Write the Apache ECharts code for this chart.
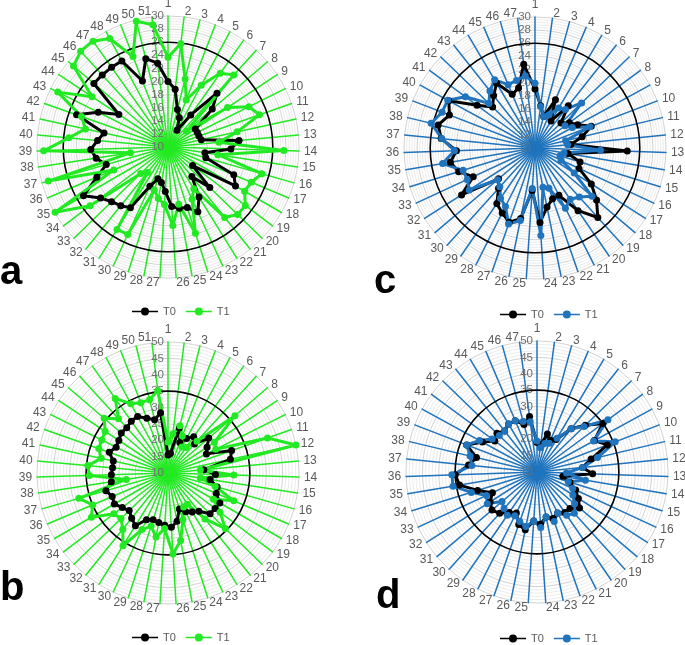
<!DOCTYPE html>
<html>
<head>
<meta charset="utf-8">
<script src="https://cdn.jsdelivr.net/npm/echarts@6/dist/echarts.min.js"></script>
<style>
html, body { margin: 0; padding: 0; background: #fff; }
#chart { width: 685px; height: 645px; }
</style>
</head>
<body>
<div id="chart"></div>
<script>
// axis names: 51 items for panels a/b, 47 items for panels c/d
var names51 = Array.from({length: 51}, function (_, i) { return String(i + 1); });
var names47 = Array.from({length: 47}, function (_, i) { return String(i + 1); });

// panel a (scale 10-30)
var aT0 = [20, 18.9, 15.9, 14.8, 12.9, 16, 21.1, 18.9, 15, 15, 15, 15.2, 20.9, 19.6, 15.7, 16, 20.9, 21.9, 14.7, 18.9,
  15.8, 19, 20.9, 19.7, 19.5, 19.1, 16.8, 15.5, 15.1, 16.6, 20.9, 21.5, 22, 22.9, 24.9, 21.8, 19.8, 21.1, 21.8, 20.8,
  20, 24.8, 21.9, 19, 24.9, 24.9, 24.9, 24.9, 20.8, 23.9, 22.9];
var aT1 = [23.7, 25.9, 20.7, 17.7, 20.7, 23.8, 24.9, 13.7, 20.9, 23.8, 24.8, 20.8, 17.8, 27.7, 17.7, 24.9, 23.8, 23.5, 24.8, 24.8,
  23.8, 17.5, 18.8, 23.8, 18.9, 22, 18.8, 18, 16.9, 24.7, 24.8, 15, 15.8, 24.9, 29.9, 19, 29, 15.8, 29, 25.2,
  22.9, 24, 28.8, 23.9, 29, 29.8, 29.8, 28.8, 24.8, 29.8, 28.8];

// panel b (scale 10-50)
var bT0 = [15.5, 16, 24.2, 20, 22, 23.6, 22, 26.4, 24.3, 23.1, 30.6, 29.5, 21, 24.5, 23, 25.6, 26, 28.3, 28, 27.9,
  25, 24, 23, 21.5, 25, 26.6, 26, 25.4, 25, 25.7, 28.9, 27.7, 26.5, 27.5, 28.9, 28.5, 29.7, 27.5, 27.3, 27,
  27.1, 29, 27.7, 28, 28.8, 28.7, 29.4, 29.6, 27.9, 26.8, 28.5];
var bT1 = [19.5, 22, 24.9, 22.1, 19, 19.5, 23.1, 36.9, 27, 26.3, 42.2, 50, 19.9, 30.1, 20, 25, 31.8, 26, 29.9, 34.4,
  28, 21.2, 21.4, 25, 31, 34.8, 27, 29.9, 27, 29, 36.1, 32, 30, 30.7, 37, 35, 38.3, 22.9, 34, 34.6,
  30.9, 32.4, 32.6, 33, 35.7, 32.4, 37.9, 34, 33, 33.1, 35.3];

// panel c (scale 10-30)
var cT0 = [19, 16.5, 15, 18, 14.8, 18.2, 15.5, 16.5, 17.4, 19.2, 17.4, 15.5, 24.1, 15.1, 17.2, 17.4, 20.2, 22.3, 24.3, 21.6,
  18.1, 18.2, 19.2, 21.4, 16.5, 21, 22, 21.1, 20.3, 18.3, 17.3, 23.3, 20.4, 22.2, 23.1, 22, 24.4, 25.2, 24, 25,
  21, 19, 20.2, 21.5, 18.9, 19.5, 22.9];
var cT1 = [19.9, 16.4, 15, 15.5, 17.1, 17.5, 19.9, 15.7, 16.5, 19, 14.8, 15, 20, 14.5, 14, 14.4, 17.1, 21.4, 20.1, 19.5,
  20.3, 16.5, 16.1, 23.4, 16.2, 21.3, 22.3, 20, 19.3, 18, 17.5, 21.9, 21.4, 21.5, 24.3, 22.3, 24.3, 26.3, 25.2, 25.2,
  23.2, 19.8, 21.1, 22.1, 20.5, 20.7, 21.1];

// panel d (scale 10-50)
var dT0 = [19, 18.5, 22, 20.5, 21.5, 26.8, 30.5, 35, 30, 33, 27, 24, 27, 18, 20.5, 23, 25, 27, 25, 25,
  24, 25, 24, 26, 25, 28, 27, 24, 25, 27, 28, 27, 25, 29, 34, 35, 31, 29, 33, 29,
  26, 27, 26, 27, 27, 25, 27.1];
var dT1 = [19.5, 17.5, 19, 19.5, 22, 26.8, 30, 36.9, 29.7, 35.6, 29, 24, 19, 25, 20, 22, 23, 25, 27, 26,
  24, 26, 24, 27, 25, 27, 26, 25, 26, 25, 24, 28, 27, 31, 36, 36, 30, 31, 33, 30,
  27, 26, 26, 27, 27, 26, 25.5];

var GREEN = '#22ea22';
var BLUE = '#1f74bd';
var GREY_TXT = '#595959';
var FONT = 'Liberation Sans';

// ECharts radar runs counter-clockwise; the reference runs clockwise
function cw(arr) { return [arr[0]].concat(arr.slice(1).reverse()); }

function ringColors(n, black, major, base) {
  var out = [];
  for (var i = 0; i <= n; i++) {
    if (base) out.push(i % major === 0 ? '#d2d2d2' : '#ececec');
    else out.push(i === black ? '#000000' : 'rgba(0,0,0,0)');
  }
  return out;
}

function makeRadars(center, names, min, max, split, black, major, step, spoke) {
  var inds = cw(names).map(function (n, i) {
    var ind = {name: n, min: min, max: max};
    if (i === 0) {
      ind.axisLabel = {
        show: true, color: '#6e6e6e', fontSize: 11.5, fontFamily: FONT, margin: 4,
        formatter: function (v) {
          var r = Math.round(v * 10) / 10;
          return Math.abs(r / step - Math.round(r / step)) < 1e-6 ? String(r) : '';
        }
      };
    }
    return ind;
  });
  var main = {
    center: center, radius: 131, startAngle: 90, shape: 'circle', splitNumber: split,
    indicator: inds,
    axisName: {color: GREY_TXT, fontSize: 12, fontFamily: FONT},
    nameGap: 5,
    axisLine: {lineStyle: {color: spoke, width: 1.5}},
    axisTick: {show: false},
    axisLabel: {show: false},
    splitArea: {show: false},
    splitLine: {lineStyle: {color: ringColors(split, black, major, true), width: 1}}
  };
  var ring = {
    center: center, radius: 131, startAngle: 90, shape: 'circle', splitNumber: split,
    indicator: names.map(function () { return {name: '', min: min, max: max}; }),
    axisName: {show: false},
    axisLine: {show: false},
    axisTick: {show: false},
    axisLabel: {show: false},
    splitArea: {show: false},
    splitLine: {lineStyle: {color: ringColors(split, black, major, false), width: 1.6}},
    z: 1
  };
  return [main, ring];
}

function makeSeries(radarIndex, prefix, t0, t1, col) {
  return {
    type: 'radar', radarIndex: radarIndex, symbol: 'circle', symbolSize: 7, z: 3,
    data: [
      {name: prefix + 'T0', value: cw(t0),
        lineStyle: {color: '#000000', width: 3}, itemStyle: {color: '#000000'}},
      {name: prefix + 'T1', value: cw(t1),
        lineStyle: {color: col, width: 3}, itemStyle: {color: col}}
    ]
  };
}

function makeLegend(prefix, left, top) {
  return {
    data: [prefix + 'T0', prefix + 'T1'], left: left, top: top, orient: 'horizontal',
    itemWidth: 26, itemHeight: 8, itemGap: 10,
    icon: 'path://M0,3.2H26V4.8H0Z M9,4a4,4 0 1,1 8,0a4,4 0 1,1 -8,0Z',
    selectedMode: false,
    textStyle: {color: GREY_TXT, fontSize: 11, fontFamily: FONT},
    formatter: function (n) { return n.slice(1); }
  };
}

var radars = []
  .concat(makeRadars([168, 147], names51, 10, 30, 50, 40, 5, 2, GREEN))
  .concat(makeRadars([168, 473], names51, 10, 50, 40, 25, 5, 5, GREEN))
  .concat(makeRadars([535, 148], names47, 10, 30, 50, 40, 5, 2, BLUE))
  .concat(makeRadars([537, 472], names47, 10, 50, 40, 25, 5, 5, BLUE));

var chart = echarts.init(document.getElementById('chart'), null, {renderer: 'canvas'});
chart.setOption({
  animation: false,
  backgroundColor: '#ffffff',
  radar: radars,
  legend: [
    makeLegend('a', 127, 301),
    makeLegend('b', 127, 627),
    makeLegend('c', 495, 304),
    makeLegend('d', 495, 628)
  ],
  graphic: [
    {type: 'text', left: 0, top: 253, style: {text: 'a', font: 'bold 40px "Liberation Sans"', fill: '#000'}},
    {type: 'text', left: 0, top: 569, style: {text: 'b', font: 'bold 40px "Liberation Sans"', fill: '#000'}},
    {type: 'text', left: 374, top: 262, style: {text: 'c', font: 'bold 40px "Liberation Sans"', fill: '#000'}},
    {type: 'text', left: 376, top: 577, style: {text: 'd', font: 'bold 40px "Liberation Sans"', fill: '#000'}}
  ],
  series: [
    makeSeries(0, 'a', aT0, aT1, GREEN),
    makeSeries(2, 'b', bT0, bT1, GREEN),
    makeSeries(4, 'c', cT0, cT1, BLUE),
    makeSeries(6, 'd', dT0, dT1, BLUE)
  ]
});
</script>
</body>
</html>
